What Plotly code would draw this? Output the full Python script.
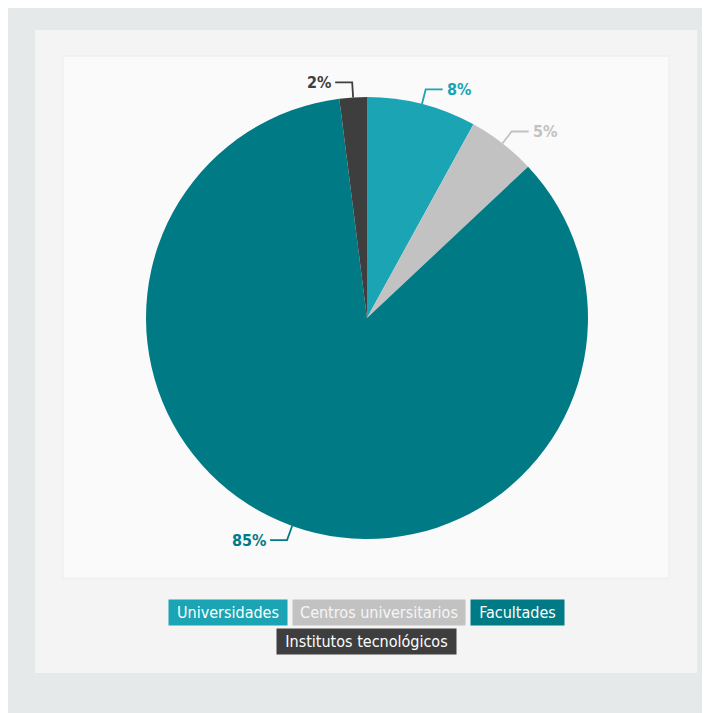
import math
import plotly.graph_objects as go

categories = ["Universidades", "Centros universitarios", "Facultades", "Institutos tecnológicos"]
values = [8, 5, 85, 2]
labels_text = ["8%", "5%", "85%", "2%"]
colors = ["#1aa4b4", "#c2c2c2", "#007b86", "#3e3e3e"]
legend_text_colors = ["#ffffff", "#f6f6f6", "#ffffff", "#ffffff"]

# page body has an 8px margin; the figure starts at (8, 8) in the window
OFF = 8
W, H = 702, 705
FONT = "DejaVu Sans Condensed, Liberation Sans Narrow, sans-serif"

# pie geometry in window pixels
cx, cy, R = 367, 318, 221


def px(x):
    return (x - OFF) / W


def py(y):
    return 1 - (y - OFF) / H


fig = go.Figure()

fig.add_trace(go.Pie(
    labels=categories,
    values=values,
    marker=dict(colors=colors, line=dict(width=0)),
    sort=False,
    direction="clockwise",
    rotation=0,
    textinfo="none",
    hole=0,
    showlegend=False,
    domain=dict(x=[px(cx - R), px(cx + R)], y=[py(cy + R), py(cy - R)]),
))

shapes = []
annotations = []

# background panels
shapes.append(dict(type="rect", xref="paper", yref="paper", x0=px(35), x1=px(697), y0=py(673), y1=py(30),
                   fillcolor="#f4f4f4", line=dict(width=0), layer="below"))
shapes.append(dict(type="rect", xref="paper", yref="paper", x0=px(63), x1=px(669), y0=py(578), y1=py(56),
                   fillcolor="#fafafa", line=dict(color="#ececec", width=1), layer="below"))

# leader lines and percentage labels
total = sum(values)
cum = 0
for v, t, c in zip(values, labels_text, colors):
    mid = (cum + v / 2) / total * 2 * math.pi
    cum += v
    sx, sy = math.sin(mid), -math.cos(mid)
    x0, y0 = cx + R * sx, cy + R * sy
    x1, y1 = cx + (R + 15) * sx, cy + (R + 15) * sy
    side = 1 if sx >= 0 else -1
    x2 = x1 + side * 17
    shapes.append(dict(type="path", xref="paper", yref="paper",
                       path=f"M {px(x0)},{py(y0)} L {px(x1)},{py(y1)} L {px(x2)},{py(y1)}",
                       line=dict(color=c, width=1.8)))
    annotations.append(dict(xref="paper", yref="paper", x=px(x2 + side * 2), y=py(y1),
                            text=t, showarrow=False,
                            xanchor="left" if side > 0 else "right", yanchor="middle",
                            font=dict(family=FONT, size=16, color=c, weight="bold")))

# legend boxes (left, top, width) in window pixels
legend_boxes = [(169, 600, 118), (293, 600, 172), (471, 600, 93), (277, 629, 179)]
for cat, col, tcol, (lx, ly, lw) in zip(categories, colors, legend_text_colors, legend_boxes):
    annotations.append(dict(xref="paper", yref="paper", x=px(lx + lw / 2), y=py(ly + 12.5),
                            text=cat, showarrow=False, xanchor="center", yanchor="middle",
                            width=lw - 4, height=21, bgcolor=col, borderpad=2,
                            font=dict(family=FONT, size=16, color=tcol)))

fig.update_layout(
    width=W, height=H,
    margin=dict(l=0, r=0, t=0, b=0),
    paper_bgcolor="#e6e9e9",
    plot_bgcolor="#e6e9e9",
    shapes=shapes,
    annotations=annotations,
    showlegend=False,
)

fig.write_html("out.html")
